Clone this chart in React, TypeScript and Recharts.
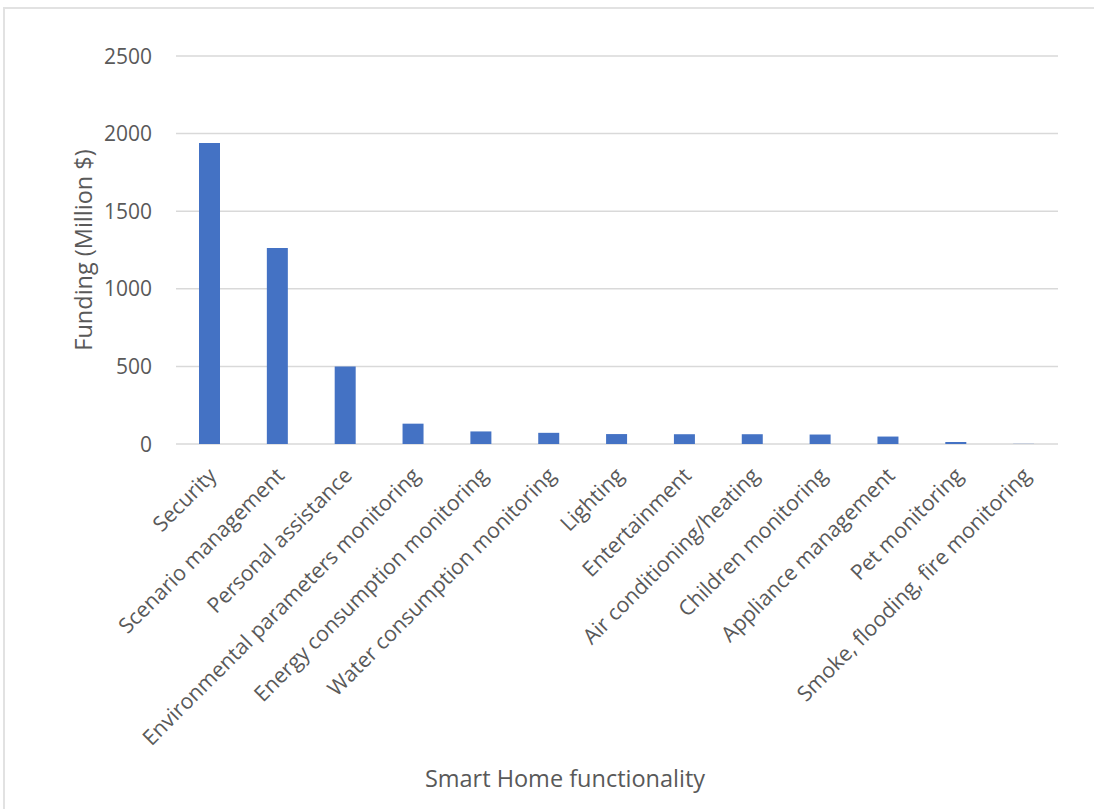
import { BarChart, Bar, XAxis, YAxis, CartesianGrid } from "recharts";

const categories = [
  "Security",
  "Scenario management",
  "Personal assistance",
  "Environmental parameters monitoring",
  "Energy consumption monitoring",
  "Water consumption monitoring",
  "Lighting",
  "Entertainment",
  "Air conditioning/heating",
  "Children monitoring",
  "Appliance management",
  "Pet monitoring",
  "Smoke, flooding, fire monitoring",
];

const funding = [1939, 1263, 500, 131, 81, 72, 64, 63, 63, 61, 48, 13, 1];

const yTicks = [0, 500, 1000, 1500, 2000, 2500];

const data = categories.map((name, i) => ({ name, funding: funding[i] }));

const FONT = "'Open Sans', 'Segoe UI', sans-serif";
const TEXT = "#595959";

// rotated category label, its top-right corner sitting just under the tick
const CategoryTick = (props: any) => {
  const { x, y, payload } = props;
  const ax = x - 3;
  const ay = y + 14;
  return (
    <text
      x={ax}
      y={ay}
      dy="0.72em"
      transform={`rotate(-45, ${ax}, ${ay})`}
      textAnchor="end"
      fontFamily={FONT}
      fontSize={21.3}
      fill={TEXT}
    >
      {payload.value}
    </text>
  );
};

const ValueTick = (props: any) => {
  const { x, y, payload } = props;
  return (
    <text
      x={x - 22}
      y={y}
      dy="0.36em"
      textAnchor="end"
      fontFamily={FONT}
      fontSize={21}
      fill={TEXT}
    >
      {payload.value}
    </text>
  );
};

const App = () => {
  return (
    <div style={{ position: "absolute", left: 0, top: 0, width: 1094, height: 809, background: "#fff" }}>
      <div
        style={{
          position: "absolute",
          left: 3,
          top: 7,
          right: 0,
          bottom: 0,
          borderTop: "2px solid #E2E2E2",
          borderLeft: "2px solid #E2E2E2",
        }}
      />
      <BarChart
        width={1094}
        height={809}
        data={data}
        barSize={21}
        margin={{ top: 56, right: 36, bottom: 0, left: 0 }}
        style={{ position: "absolute", left: 0, top: 0 }}
      >
        <CartesianGrid vertical={false} stroke="#D9D9D9" strokeWidth={1.5} />
        <XAxis
          dataKey="name"
          interval={0}
          height={365}
          axisLine={false}
          tickLine={false}
          tick={<CategoryTick />}
          label={{
            content: () => (
              <text x={565} y={787} textAnchor="middle" fontFamily={FONT} fontSize={23.5} fill={TEXT}>
                Smart Home functionality
              </text>
            ),
          }}
        />
        <YAxis
          width={176}
          domain={[0, 2500]}
          ticks={yTicks}
          axisLine={false}
          tickLine={false}
          tickSize={0}
          tick={<ValueTick />}
          label={{
            value: "Funding (Million $)",
            angle: -90,
            position: "center",
            dx: -4,
            style: { fontFamily: FONT, fontSize: 23.5, fill: TEXT },
          }}
        />
        <Bar dataKey="funding" fill="#4472C4" isAnimationActive={false} />
      </BarChart>
    </div>
  );
};

export default App;
